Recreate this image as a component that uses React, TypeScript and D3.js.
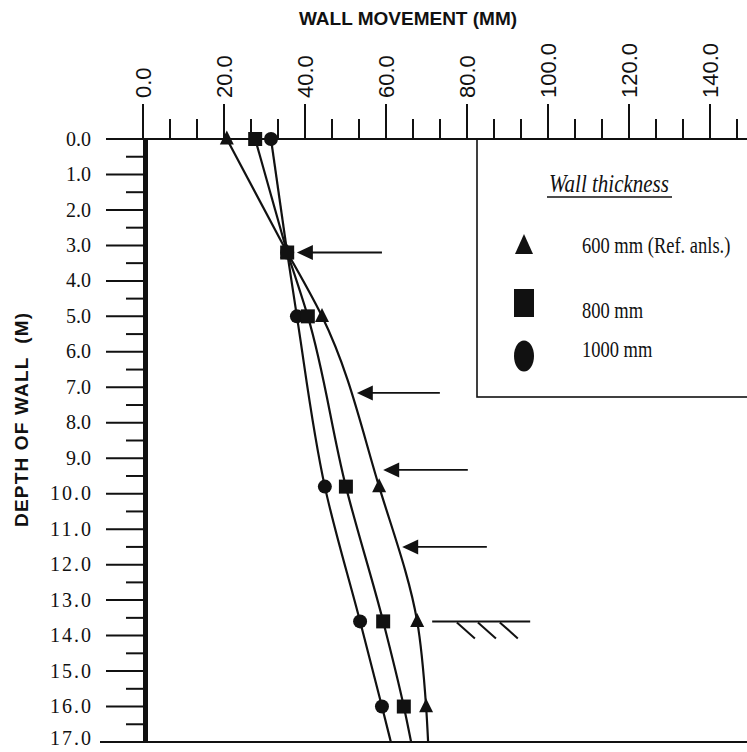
import React from "react";
import * as d3 from "d3";

// ---- data ----
const depths = [0, 3.2, 5.0, 9.8, 13.6, 16.0, 17.0];
const markedDepths = [0, 3.2, 5.0, 9.8, 13.6, 16.0];
const mm600 = [20.7, 35.6, 44.2, 58.3, 67.7, 69.9, 70.4];
const mm800 = [27.7, 35.6, 40.7, 50.1, 59.3, 64.4, 66.2];
const mm1000 = [31.6, 35.6, 38.0, 44.9, 53.6, 59.0, 61.2];
const seriesNames = ["600 mm (Ref. anls.)", "800 mm", "1000 mm"];
const seriesShapes = ["triangle", "square", "circle"];

const xMajorTicks = [0, 20, 40, 60, 80, 100, 120, 140];
const yMajorTicks = d3.range(0, 18, 1);
const arrowDepths = [3.2, 7.16, 9.33, 11.5];
const arrowTips = [38.0, 52.8, 59.3, 64.0];
const arrowTails = [59.0, 73.3, 80.2, 84.9];
const groundDepth = 13.6;
const groundFrom = 71.4;
const groundTo = 95.6;
const hatchStarts = [77.5, 82.7, 88.1];

const INK = "#111";

export default function App() {
  const x = d3.scaleLinear().domain([0, 140]).range([143, 710]);
  const y = d3.scaleLinear().domain([0, 17]).range([139, 742]);

  const allSeries = [mm600, mm800, mm1000];
  const straight = d3.line<[number, number]>().x((d) => x(d[0])).y((d) => y(d[1]));
  const curved = d3
    .line<[number, number]>()
    .x((d) => x(d[0]))
    .y((d) => y(d[1]))
    .curve(d3.curveMonotoneY);

  const xMinor = d3.range(0, 150, 20 / 3).filter((v) => Math.abs(v / 20 - Math.round(v / 20)) > 0.01);
  const yMinor = d3.range(0.5, 17, 1);

  const marker = (shape: string, cx: number, cy: number, w: number, h: number, key: string) => {
    if (shape === "triangle") {
      return (
        <path
          key={key}
          d={`M${cx},${cy - h * 0.6}L${cx + w / 2},${cy + h * 0.4}L${cx - w / 2},${cy + h * 0.4}Z`}
          fill={INK}
        />
      );
    }
    if (shape === "square") {
      return <rect key={key} x={cx - w / 2} y={cy - h / 2} width={w} height={h} fill={INK} />;
    }
    return <ellipse key={key} cx={cx} cy={cy} rx={w / 2} ry={h / 2} fill={INK} />;
  };

  const drawOrder = [0, 2, 1];

  return (
    <svg
      width={747}
      height={752}
      style={{ position: "absolute", left: 0, top: 0, background: "#fff" }}
    >
      <rect x={0} y={0} width={747} height={752} fill="#fff" />
      {/* titles */}
      <text
        x={408}
        y={25}
        textAnchor="middle"
        fontFamily="Liberation Sans, Arial, sans-serif"
        fontWeight="bold"
        fontSize={19}
        fill={INK}
      >
        WALL MOVEMENT (MM)
      </text>
      <text
        transform="translate(28,420) rotate(-90)"
        textAnchor="middle"
        fontFamily="Liberation Sans, Arial, sans-serif"
        fontWeight="bold"
        fontSize={19}
        fill={INK}
        textLength={214}
        lengthAdjust="spacing"
        style={{ whiteSpace: "pre" }}
      >
        {"DEPTH OF WALL  (M)"}
      </text>

      {/* top axis */}
      <line x1={106} x2={747} y1={139} y2={139} stroke={INK} strokeWidth={2.2} />
      {xMajorTicks.map((v) => (
        <g key={"xm" + v}>
          <line x1={x(v)} x2={x(v)} y1={139} y2={104} stroke={INK} strokeWidth={2} />
          <text
            transform={`translate(${x(v)},98) rotate(-90)`}
            dy="0.36em"
            textAnchor="start"
            fontFamily="Liberation Sans, Arial, sans-serif"
            fontSize={22}
            fill={INK}
          >
            {v.toFixed(1)}
          </text>
        </g>
      ))}
      {xMinor.map((v) => (
        <line key={"xn" + v} x1={x(v)} x2={x(v)} y1={139} y2={119} stroke={INK} strokeWidth={2} />
      ))}

      {/* left axis */}
      <line x1={145.5} x2={145.5} y1={139} y2={742} stroke={INK} strokeWidth={5} />
      {yMajorTicks.map((v) => {
        const label = v.toFixed(1);
        const last = v === 17;
        return (
          <g key={"ym" + v}>
            <line x1={106} x2={145} y1={y(v)} y2={y(v)} stroke={INK} strokeWidth={2} />
            <text
              transform={`translate(91,${y(v) - (last ? 4 : 0)}) scale(1,1.1)`}
              dy="0.3em"
              textAnchor="end"
              fontFamily="Liberation Serif, Times New Roman, serif"
              fontSize={20}
              fill={INK}
              textLength={label.length > 3 ? 41 : undefined}
              lengthAdjust="spacing"
            >
              {label}
            </text>
          </g>
        );
      })}
      {yMinor.map((v) => (
        <line key={"yn" + v} x1={126} x2={145} y1={y(v)} y2={y(v)} stroke={INK} strokeWidth={2} />
      ))}
      <line x1={100} x2={747} y1={742} y2={742} stroke={INK} strokeWidth={2.2} />

      {/* legend box */}
      <rect x={477} y={139} width={300} height={258} fill="none" stroke={INK} strokeWidth={1.6} />
      <text
        transform="translate(609,192) scale(1,1.2)"
        textAnchor="middle"
        fontFamily="Liberation Serif, Times New Roman, serif"
        fontStyle="italic"
        fontSize={21}
        fill={INK}
      >
        Wall thickness
      </text>
      <line x1={547} x2={672} y1={197} y2={197} stroke={INK} strokeWidth={1.3} />
      {seriesNames.map((name, i) => {
        const cy = [246, 303, 356][i];
        const size = [
          [18, 20],
          [20, 28],
          [20, 31],
        ][i];
        return (
          <g key={"lg" + i}>
            {marker(seriesShapes[i], 524, cy, size[0], size[1], "lm" + i)}
            <text
              transform={`translate(582,${[253, 318, 357][i]}) scale(1,1.2)`}
              fontFamily="Liberation Serif, Times New Roman, serif"
              fontSize={18.5}
              fill={INK}
            >
              {name}
            </text>
          </g>
        );
      })}

      {/* curves */}
      {allSeries.map((s, i) => {
        const pts: [number, number][] = s.map((v, j) => [v, depths[j]]);
        return (
          <g key={"c" + i}>
            <path d={straight(pts.slice(0, 2)) || ""} fill="none" stroke={INK} strokeWidth={2.2} />
            <path d={curved(pts.slice(1)) || ""} fill="none" stroke={INK} strokeWidth={2.2} />
          </g>
        );
      })}

      {/* markers */}
      {drawOrder.map((i) =>
        markedDepths.map((dep, j) =>
          marker(seriesShapes[i], x(allSeries[i][j]), y(dep), 14, 14, `m${i}-${j}`)
        )
      )}

      {/* load arrows */}
      {arrowDepths.map((dep, i) => {
        const tip = x(arrowTips[i]);
        const yy = y(dep);
        return (
          <g key={"a" + i}>
            <line x1={tip + 12} x2={x(arrowTails[i])} y1={yy} y2={yy} stroke={INK} strokeWidth={1.8} />
            <path d={`M${tip},${yy}L${tip + 16},${yy - 7.5}L${tip + 16},${yy + 7.5}Z`} fill={INK} />
          </g>
        );
      })}

      {/* excavation level */}
      <line
        x1={x(groundFrom)}
        x2={x(groundTo)}
        y1={y(groundDepth)}
        y2={y(groundDepth)}
        stroke={INK}
        strokeWidth={2}
      />
      {hatchStarts.map((h) => (
        <line
          key={"h" + h}
          x1={x(h)}
          y1={y(groundDepth) + 1}
          x2={x(h) + 18}
          y2={y(groundDepth) + 17}
          stroke={INK}
          strokeWidth={2}
        />
      ))}
    </svg>
  );
}
